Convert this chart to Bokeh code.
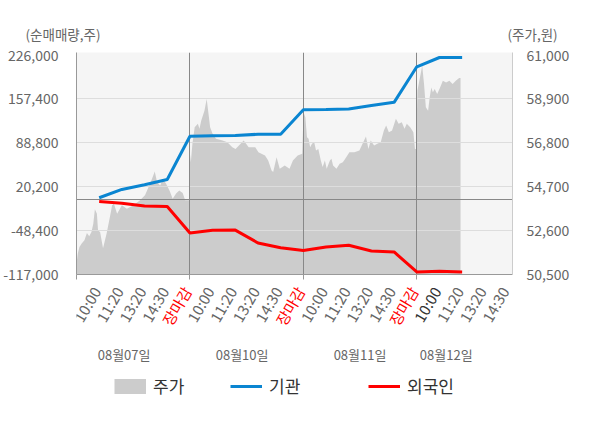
import math
from bokeh.plotting import figure
from bokeh.layouts import column
from bokeh.models import (ColumnDataSource, LinearAxis, Range1d, FixedTicker,
                          NumeralTickFormatter, LabelSet, Legend, LegendItem)
from bokeh.core.properties import value
from bokeh.embed import file_html
from bokeh.resources import INLINE

FONT = "Noto Sans CJK KR"

# ---- categories / ticks ----
days = ["08월07일", "08월10일", "08월11일", "08월12일"]
day_label_pos = [2.1, 7.3, 12.5, 16.3]
day_bounds = [0, 5, 10, 15]
tick_pos = [1, 2, 3, 4, 5, 6, 7, 8, 9, 10, 11, 12, 13, 14, 15, 16, 17, 18, 19]
tick_labels = ["10:00", "11:20", "13:20", "14:30", "장마감",
               "10:00", "11:20", "13:20", "14:30", "장마감",
               "10:00", "11:20", "13:20", "14:30", "장마감",
               "10:00", "11:20", "13:20", "14:30"]
tick_colors = ["#666666"] * 4 + ["#ff0000"] + ["#666666"] * 4 + ["#ff0000"] + \
              ["#666666"] * 4 + ["#ff0000"] + ["#333333"] + ["#666666"] * 3
left_title = "(순매매량,주)"
right_title = "(주가,원)"

net_ticks = [-117000, -48400, 20200, 88800, 157400, 226000]
price_ticks = [50500, 52600, 54700, 56800, 58900, 61000]

# ---- series: cumulative net buying (shares) ----
flow_x = [1, 2, 3, 4, 5, 6, 7, 8, 9, 10, 11, 12, 13, 14, 15, 16, 17]
inst = [3000, 16000, 23300, 31600, 99100, 99700, 100200, 102200, 102200,
        140500, 141000, 141800, 147000, 152100, 207700, 222200, 222200]
foreign = [-3000, -5800, -10000, -10700, -52100, -47900, -47600, -67700, -75200,
           -79400, -74000, -71300, -80200, -81800, -112900, -111800, -112900]

# ---- series: share price (won) ----
price_x = [0.00, 0.06, 0.13, 0.23, 0.35, 0.46, 0.56, 0.66, 0.74, 0.81, 0.90, 0.95,
           1.04, 1.17, 1.33, 1.50, 1.57, 1.65, 1.79, 2.00, 2.22, 2.51, 2.80, 3.02,
           3.30, 3.45, 3.55, 3.69, 3.81, 3.95, 4.10, 4.24, 4.39, 4.53, 4.68, 4.79, 4.97,
           5.00, 5.04, 5.11, 5.21, 5.35, 5.42, 5.50, 5.64, 5.74, 5.83, 5.89, 6.00, 6.15,
           6.44, 6.65, 6.87, 7.01, 7.16, 7.37, 7.59, 7.88, 8.02, 8.31, 8.45, 8.60, 8.67,
           8.82, 8.96, 9.18, 9.39, 9.54, 9.75, 9.95,
           10.01, 10.09, 10.16, 10.23, 10.30, 10.38, 10.48, 10.56, 10.66, 10.77, 10.85,
           10.95, 11.03, 11.17, 11.24, 11.31, 11.46, 11.60, 11.74, 11.89, 12.03, 12.25,
           12.47, 12.61, 12.76, 12.87, 12.97, 13.12, 13.26, 13.41, 13.55, 13.65, 13.77,
           13.91, 14.08, 14.20, 14.34, 14.46, 14.56, 14.71, 14.85, 14.92, 14.97,
           15.03, 15.14, 15.24, 15.32, 15.40, 15.50, 15.57, 15.64, 15.71, 15.79, 15.90,
           16.00, 16.15, 16.29, 16.44, 16.58, 16.72, 16.87, 16.93]
price = [51030, 51520, 51820, 51980, 52140, 52490, 52330, 52530, 52930, 53620, 53410, 52610,
         52530, 51760, 52470, 53410, 53810, 53890, 53410, 53810, 53650, 53810, 54050, 54290,
         55000, 55430, 54920, 54760, 55080, 54840, 54520, 54130, 54370, 54520, 54400, 54050, 54050,
         56280, 55870, 56750, 57550, 57710, 57470, 57870, 58340, 58900, 58100, 57550, 57230, 56990,
         56910, 56830, 56590, 56510, 56670, 56910, 56590, 56590, 56350, 56190, 55960, 55480, 55400,
         56110, 55560, 55720, 55560, 55960, 56190, 56280,
         58260, 58020, 57070, 56990, 56590, 56750, 56830, 56430, 56510, 55960, 55640,
         55960, 55560, 55960, 56040, 55720, 55560, 55800, 55870, 56110, 56350, 56350,
         56430, 56750, 57100, 56510, 56910, 56670, 56750, 56830, 57390, 57630, 57310,
         57390, 57950, 57710, 57780, 57470, 57710, 57550, 57310, 56510, 56510,
         59300, 59930, 60490, 59620, 58500, 58340, 58980, 59450, 59220, 59380, 59140,
         59380, 59770, 59690, 59770, 59620, 59770, 59900, 59900]

GRAY_TXT = "#666666"
BLUE = "#0a85d1"
RED = "#ff0000"
AREA = "#cccccc"
W = 584
BL, BR = 68, 72
FRAME_H = 222
X_END = 19.22
TOP_H = 46
MAIN_TOP, MAIN_BOT = 6, 9
BOT_H = 420 - TOP_H - (MAIN_TOP + FRAME_H + MAIN_BOT)


def strip(height, x_range):
    f = figure(width=W, height=height, output_backend="svg", toolbar_location=None,
               x_range=x_range, y_range=Range1d(0, height), title=None,
               x_axis_location=None, y_axis_location=None,
               min_border_left=BL, min_border_right=BR, min_border_top=0, min_border_bottom=0,
               outline_line_color=None, background_fill_color="white")
    f.grid.visible = False
    return f


# ---------------- top strip: axis titles (as one-tick axes) ----------------
top = strip(TOP_H, Range1d(0, X_END))
title_y = 13
for side, txt, stand in (("left", left_title, -24), ("right", right_title, -5)):
    ax = LinearAxis(ticker=FixedTicker(ticks=[title_y]),
                    major_label_overrides={title_y: txt})
    ax.axis_line_color = None
    ax.major_tick_line_color = None
    ax.minor_tick_line_color = None
    ax.major_tick_out = 0
    ax.major_label_standoff = stand
    ax.major_label_text_font = FONT
    ax.major_label_text_font_size = "13.5px"
    ax.major_label_text_color = GRAY_TXT
    top.add_layout(ax, side)

# ---------------- main chart ----------------
p = figure(width=W, height=MAIN_TOP + FRAME_H + MAIN_BOT, output_backend="svg",
           toolbar_location=None, title=None,
           x_range=Range1d(0, X_END), y_range=Range1d(-117000, 230000),
           min_border_left=BL, min_border_right=BR,
           min_border_top=MAIN_TOP, min_border_bottom=MAIN_BOT,
           background_fill_color="#f5f5f5", border_fill_color="white",
           outline_line_color=None)
p.extra_y_ranges = {"price": Range1d(50500, 61122)}
p.xgrid.visible = False
p.ygrid.visible = False

ya = p.yaxis[0]
ya.ticker = FixedTicker(ticks=net_ticks)
ya.formatter = NumeralTickFormatter(format="0,0")
ya.major_tick_line_color = None
ya.minor_tick_line_color = None
ya.axis_line_color = "#999999"
ya.major_label_standoff = 12
ya.major_label_text_font = FONT
ya.major_label_text_font_size = "14px"
ya.major_label_text_color = GRAY_TXT

ra = LinearAxis(y_range_name="price", ticker=FixedTicker(ticks=price_ticks),
                formatter=NumeralTickFormatter(format="0,0"))
ra.major_tick_line_color = None
ra.minor_tick_line_color = None
ra.axis_line_color = "#cccccc"
ra.major_label_standoff = 8
ra.major_label_text_font = FONT
ra.major_label_text_font_size = "14px"
ra.major_label_text_color = GRAY_TXT
p.add_layout(ra, "right")

# bottom axis: day boundaries as (label-less) minor ticks
xa = p.xaxis[0]
xa.ticker = FixedTicker(ticks=[], minor_ticks=day_bounds)
xa.major_tick_line_color = None
xa.major_label_standoff = 0
xa.minor_tick_in = 0
xa.minor_tick_out = 5
xa.minor_tick_line_color = "#999999"
xa.axis_line_color = "#999999"

p.varea(x=price_x, y1=price_ticks[0], y2=price, y_range_name="price", fill_color=AREA)
p.hspan(y=net_ticks[1:-1], line_color="#dddddd", line_width=1)
p.hspan(y=[0], line_color="#888888", line_width=1)
p.vspan(x=day_bounds[1:], line_color="#888888", line_width=1)
p.line(flow_x, inst, line_color=BLUE, line_width=3)
p.line(flow_x, foreign, line_color=RED, line_width=3)

# ---------------- bottom strip: tick labels, dates, legend ----------------
bot = strip(BOT_H, Range1d(0, X_END))

tsrc = ColumnDataSource(dict(x=tick_pos, text=tick_labels, color=tick_colors))
bot.add_layout(LabelSet(x="x", y=BOT_H - 4.5, y_units="screen", x_offset=-3, text="text",
                        source=tsrc, angle=math.pi / 3, text_align="right",
                        text_baseline="middle", text_color="color",
                        text_font=value(FONT), text_font_size="15px"))

dsrc = ColumnDataSource(dict(x=day_label_pos, text=days))
bot.add_layout(LabelSet(x="x", y=66, y_units="screen", text="text", source=dsrc,
                        text_align="center", text_baseline="middle",
                        text_color=GRAY_TXT, text_font=value(FONT), text_font_size="13px"))

# legend swatches: same series, drawn in this strip's (out-of-view) coordinates
lg_area = bot.line(price_x, price, line_color=AREA, line_width=15, line_cap="butt")
lg_inst = bot.line(flow_x, inst, line_color=BLUE, line_width=3)
lg_for = bot.line(flow_x, foreign, line_color=RED, line_width=3)


def make_legend(label, rend, loc):
    lg = Legend(items=[LegendItem(label=label, renderers=[rend])], location=loc,
                orientation="horizontal", padding=0, margin=0, border_line_color=None,
                background_fill_alpha=0, glyph_width=32, glyph_height=26, label_height=26,
                label_standoff=7, label_text_font=FONT, label_text_font_size="17px",
                label_text_color="#333333", inactive_fill_alpha=0)
    bot.add_layout(lg, "center")


make_legend("주가", lg_area, (38, 21.5))
make_legend("기관", lg_inst, (154, 21.5))
make_legend("외국인", lg_for, (292, 21.5))

layout = column(top, p, bot, spacing=0)
open("out.html", "w").write(file_html(layout, INLINE))
